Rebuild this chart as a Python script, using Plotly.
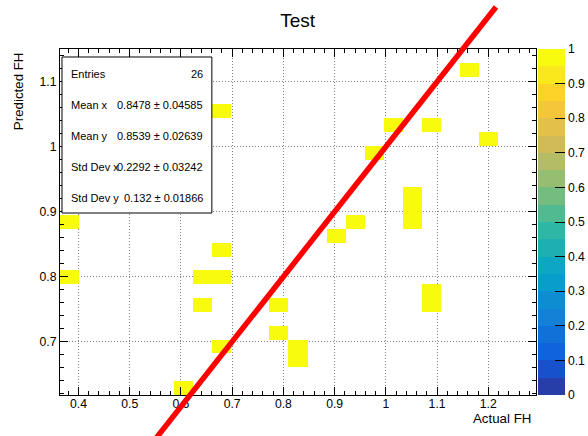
import numpy as np
import plotly.graph_objects as go

# ---- data ----
actual_fh = [0.383, 0.383, 0.606, 0.643, 0.643, 0.680, 0.680, 0.680, 0.680,
             0.791, 0.791, 0.829, 0.829, 0.903, 0.903, 0.940, 0.977, 1.014,
             1.051, 1.051, 1.051, 1.089, 1.089, 1.089, 1.163, 1.200]
predicted_fh = [0.884, 0.799, 0.629, 0.756, 0.799, 0.799, 0.842, 1.055, 0.693,
                0.756, 0.714, 0.671, 0.693, 0.863, 0.863, 0.884, 0.991, 1.033,
                0.884, 0.905, 0.927, 1.033, 0.756, 0.778, 1.118, 1.012]
x_range = [0.364, 1.2931]
y_range = [0.618, 1.1503]
n_bins_x = 25
n_bins_y = 25
diag_line = [0.5, 1.215]          # y = x reference line (start, end)
stat_labels = ["Entries", "Mean x", "Mean y", "Std Dev x", "Std Dev y"]
stat_values = ["26", "0.8478 \u00b1 0.04585", "0.8539 \u00b1 0.02639",
               "0.2292 \u00b1 0.03242", "0.132 \u00b1 0.01866"]
cbar_ticks = [0, 0.1, 0.2, 0.3, 0.4, 0.5, 0.6, 0.7, 0.8, 0.9, 1]

# ---- ROOT kBird palette, 20 contour levels ----
stops = [0.0, 0.125, 0.25, 0.375, 0.5, 0.625, 0.75, 0.875, 1.0]
red = [0.2082, 0.0592, 0.0780, 0.0232, 0.1802, 0.5301, 0.8186, 0.9956, 0.9764]
green = [0.1664, 0.3599, 0.5041, 0.6419, 0.7178, 0.7492, 0.7328, 0.7862, 0.9832]
blue = [0.5293, 0.8684, 0.8385, 0.7914, 0.6425, 0.4662, 0.3499, 0.1968, 0.0539]
nlev = 20
colorscale = []
for i in range(nlev):
    t = min(int((i + 0.99) * 255 / nlev) / 254.0, 1.0)
    c = "rgb(%d,%d,%d)" % tuple(round(255 * np.interp(t, stops, ch)) for ch in (red, green, blue))
    colorscale.append([i / nlev, c])
    colorscale.append([(i + 1) / nlev, c])

# ---- histogram ----
xedges = np.linspace(x_range[0], x_range[1], n_bins_x + 1)
yedges = np.linspace(y_range[0], y_range[1], n_bins_y + 1)
H, _, _ = np.histogram2d(actual_fh, predicted_fh, bins=[xedges, yedges])
z = np.where(H.T > 0, H.T, np.nan)
xc = 0.5 * (xedges[:-1] + xedges[1:])
yc = 0.5 * (yedges[:-1] + yedges[1:])

FONT = "Liberation Sans, Arial, Helvetica, sans-serif"

fig = go.Figure()
fig.add_trace(go.Heatmap(
    x=xc, y=yc, z=z, zmin=0, zmax=1, colorscale=colorscale, hoverongaps=False,
    colorbar=dict(x=1.0042, xanchor="left", y=0.5, yanchor="middle", len=1.0,
                  lenmode="fraction", thickness=27, xpad=0, ypad=0, outlinewidth=0,
                  tickvals=cbar_ticks, ticks="inside", ticklen=10, tickcolor="black",
                  tickfont=dict(family=FONT, size=12.2, color="black")),
))

axis_common = dict(
    showline=True, linecolor="black", linewidth=1, mirror="ticks",
    ticks="inside", ticklen=8, tickcolor="black", dtick=0.1, tick0=0,
    showgrid=True, gridcolor="#808080", gridwidth=1, griddash="1px,2px",
    zeroline=False, tickfont=dict(family=FONT, size=12.2, color="black"),
    minor=dict(dtick=0.02, tick0=0, ticks="inside", ticklen=4, tickcolor="black", showgrid=False),
)
fig.update_xaxes(range=x_range, ticklabelstandoff=-3, **axis_common)
fig.update_yaxes(range=y_range, **axis_common)

# stats box
shapes = [dict(type="rect", xref="paper", yref="paper", x0=0.0042, x1=0.319, y0=0.526, y1=0.9769,
               fillcolor="white", line=dict(color="black", width=1), layer="above")]
# y = x reference line (drawn unclipped, positioned via the axis ranges)
fx = lambda v: (v - x_range[0]) / (x_range[1] - x_range[0])
fy = lambda v: (v - y_range[0]) / (y_range[1] - y_range[0])
shapes.append(dict(type="line", xref="x domain", yref="y domain",
                   x0=fx(diag_line[0]), y0=fy(diag_line[0]), x1=fx(diag_line[1]), y1=fy(diag_line[1]),
                   line=dict(color="#ff0000", width=5.5), layer="above"))

annotations = []
stat_y = [0.9277, 0.8382, 0.7486, 0.6590, 0.5694]
for lab, val, yy in zip(stat_labels, stat_values, stat_y):
    annotations.append(dict(text=lab, xref="paper", yref="paper", x=0.019, y=yy,
                            xanchor="left", yanchor="middle", showarrow=False,
                            font=dict(family=FONT, size=11, color="black")))
    annotations.append(dict(text=val, xref="paper", yref="paper", x=0.305, y=yy,
                            xanchor="right", yanchor="middle", showarrow=False,
                            font=dict(family=FONT, size=11, color="black")))
annotations.append(dict(text="Actual FH", xref="paper", yref="paper", x=0.9937, y=-0.068,
                        xanchor="right", yanchor="middle", showarrow=False,
                        font=dict(family=FONT, size=13.3, color="black")))
annotations.append(dict(text="Predicted FH", xref="paper", yref="paper", x=-0.088, y=0.997,
                        xanchor="center", yanchor="top", textangle=-90, showarrow=False,
                        font=dict(family=FONT, size=13.3, color="black")))

fig.update_layout(
    width=588, height=436,
    margin=dict(l=60, r=52, t=49, b=41, autoexpand=False),
    paper_bgcolor="white", plot_bgcolor="white",
    title=dict(text="Test", x=297.7 / 588, xanchor="center", y=1 - 20 / 436, yanchor="middle",
               font=dict(family=FONT, size=19, color="black")),
    shapes=shapes, annotations=annotations, showlegend=False,
)

fig.write_html("out.html")
